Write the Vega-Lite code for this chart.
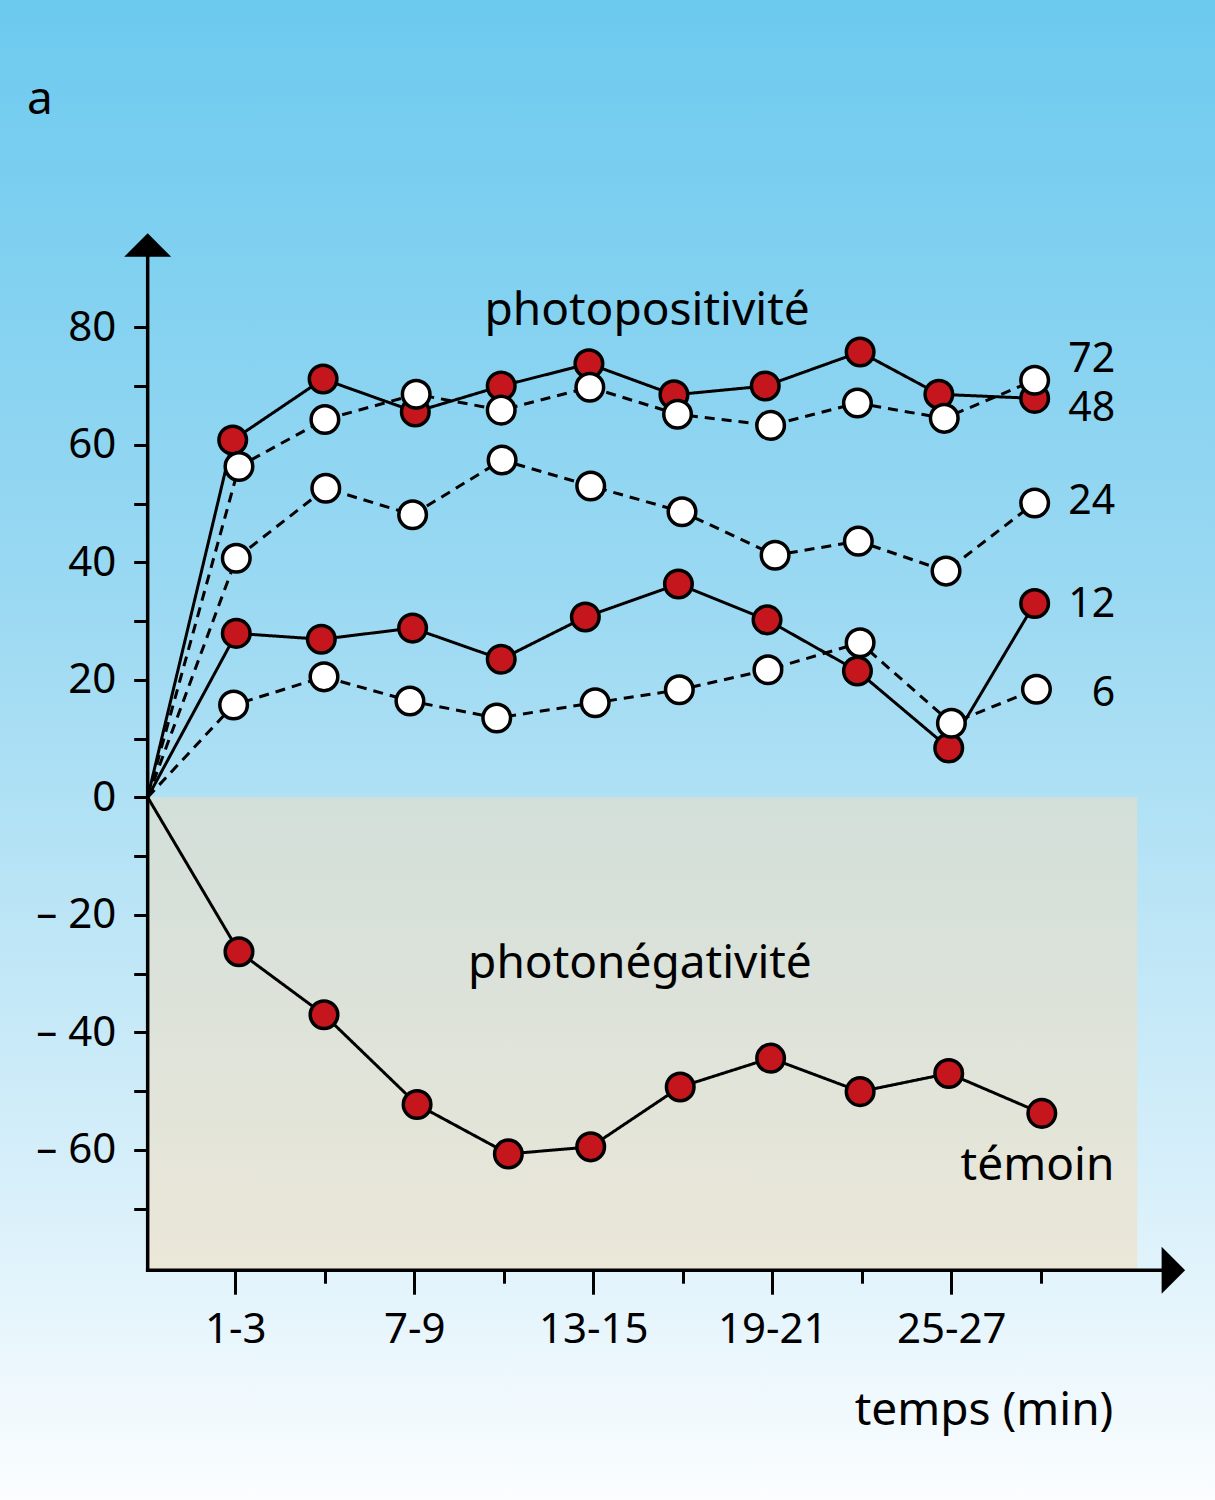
{
  "$schema": "https://vega.github.io/schema/vega-lite/v6.json",
  "width": 1215,
  "height": 1500,
  "padding": 0,
  "autosize": {"type": "none"},
  "background": "#ffffff",
  "config": {
    "font": "Noto Sans",
    "view": {
      "stroke": null,
      "fill": {
        "gradient": "linear", "x1": 0, "y1": 0, "x2": 0, "y2": 1,
        "stops": [
          {"offset": 0, "color": "#6ccaef"},
          {"offset": 0.4, "color": "#9bd9f2"},
          {"offset": 0.8, "color": "#d9f0fa"},
          {"offset": 1, "color": "#fbfdff"}
        ]
      }
    }
  },
  "datasets": {
    "series": [
      {"s": "72", "x": 0, "y": 0},
      {"s": "72", "x": 0.95, "y": 60.8},
      {"s": "72", "x": 1.96, "y": 71.2},
      {"s": "72", "x": 2.99, "y": 65.6},
      {"s": "72", "x": 3.95, "y": 70.0},
      {"s": "72", "x": 4.93, "y": 73.8},
      {"s": "72", "x": 5.88, "y": 68.5},
      {"s": "72", "x": 6.9, "y": 70.0},
      {"s": "72", "x": 7.96, "y": 75.8},
      {"s": "72", "x": 8.84, "y": 68.6},
      {"s": "72", "x": 9.91, "y": 67.9},
      {"s": "48", "x": 0, "y": 0},
      {"s": "48", "x": 1.02, "y": 56.3},
      {"s": "48", "x": 1.98, "y": 64.3},
      {"s": "48", "x": 3.0, "y": 68.6},
      {"s": "48", "x": 3.95, "y": 65.9},
      {"s": "48", "x": 4.94, "y": 69.8},
      {"s": "48", "x": 5.92, "y": 65.2},
      {"s": "48", "x": 6.96, "y": 63.3},
      {"s": "48", "x": 7.93, "y": 67.1},
      {"s": "48", "x": 8.9, "y": 64.5},
      {"s": "48", "x": 9.91, "y": 71.0},
      {"s": "24", "x": 0, "y": 0},
      {"s": "24", "x": 0.99, "y": 40.7},
      {"s": "24", "x": 1.99, "y": 52.6},
      {"s": "24", "x": 2.96, "y": 48.1},
      {"s": "24", "x": 3.96, "y": 57.4},
      {"s": "24", "x": 4.95, "y": 53.0},
      {"s": "24", "x": 5.97, "y": 48.6},
      {"s": "24", "x": 7.01, "y": 41.2},
      {"s": "24", "x": 7.94, "y": 43.6},
      {"s": "24", "x": 8.92, "y": 38.5},
      {"s": "24", "x": 9.91, "y": 50.1},
      {"s": "12", "x": 0, "y": 0},
      {"s": "12", "x": 0.99, "y": 27.9},
      {"s": "12", "x": 1.94, "y": 26.9},
      {"s": "12", "x": 2.96, "y": 28.8},
      {"s": "12", "x": 3.95, "y": 23.5},
      {"s": "12", "x": 4.89, "y": 30.7},
      {"s": "12", "x": 5.93, "y": 36.3},
      {"s": "12", "x": 6.92, "y": 30.2},
      {"s": "12", "x": 7.93, "y": 21.5},
      {"s": "12", "x": 8.95, "y": 8.4},
      {"s": "12", "x": 9.91, "y": 33.0},
      {"s": "6", "x": 0, "y": 0},
      {"s": "6", "x": 0.96, "y": 15.7},
      {"s": "6", "x": 1.97, "y": 20.5},
      {"s": "6", "x": 2.93, "y": 16.4},
      {"s": "6", "x": 3.9, "y": 13.5},
      {"s": "6", "x": 5.0, "y": 16.1},
      {"s": "6", "x": 5.94, "y": 18.3},
      {"s": "6", "x": 6.93, "y": 21.7},
      {"s": "6", "x": 7.96, "y": 26.3},
      {"s": "6", "x": 8.98, "y": 12.6},
      {"s": "6", "x": 9.93, "y": 18.4},
      {"s": "témoin", "x": 0, "y": 0},
      {"s": "témoin", "x": 1.02, "y": -26.3},
      {"s": "témoin", "x": 1.97, "y": -37.0},
      {"s": "témoin", "x": 3.01, "y": -52.3},
      {"s": "témoin", "x": 4.03, "y": -60.7},
      {"s": "témoin", "x": 4.95, "y": -59.5},
      {"s": "témoin", "x": 5.95, "y": -49.3},
      {"s": "témoin", "x": 6.96, "y": -44.4},
      {"s": "témoin", "x": 7.96, "y": -50.1},
      {"s": "témoin", "x": 8.95, "y": -47.0},
      {"s": "témoin", "x": 9.99, "y": -53.8}
    ],
    "region": [{"x": 0, "x2": 11.057, "y": 0, "y2": -80.5}],
    "axisLines": [
      {"x": 0, "x2": 0, "y": -80.5, "y2": 92.0},
      {"x": 0, "x2": 11.37, "y": -80.5, "y2": -80.5}
    ],
    "arrowUp": [{"x": 0, "y": 94.0}],
    "arrowRight": [{"x": 11.46, "y": -80.5}],
    "numLabels": [
      {"t": "72", "x": 10.81, "y": 72.4},
      {"t": "48", "x": 10.81, "y": 64.0},
      {"t": "24", "x": 10.81, "y": 48.2},
      {"t": "12", "x": 10.81, "y": 30.7},
      {"t": "6", "x": 10.81, "y": 15.5}
    ],
    "rightWords": [
      {"t": "témoin", "x": 10.8, "y": -65.1},
      {"t": "temps (min)", "x": 10.79, "y": -106.8}
    ],
    "centerWords": [
      {"t": "photopositivité", "x": 5.58, "y": 80.4},
      {"t": "photonégativité", "x": 5.5, "y": -30.8}
    ],
    "panel": [{"t": "a", "x": -1.349, "y": 116.3}]
  },
  "encoding": {
    "x": {
      "field": "x", "type": "quantitative",
      "scale": {"domain": [-1.65, 11.925], "nice": false, "zero": false},
      "axis": {
        "orient": "bottom", "offset": -229.8, "translate": -1.5,
        "values": [1, 2, 3, 4, 5, 6, 7, 8, 9, 10],
        "domain": false, "grid": false, "title": null,
        "tickColor": "#000000", "tickWidth": 3,
        "tickSize": {"condition": {"test": "datum.value % 2 == 1", "value": 26}, "value": 15},
        "labelExpr": "datum.value % 2 == 1 ? (3*datum.value-2) + '-' + (3*datum.value) : ''",
        "labelFont": "Noto Sans", "labelFontSize": 42, "labelColor": "#000000",
        "labelPadding": 15, "labelOverlap": false, "labelFlush": false, "labelBound": false
      }
    },
    "y": {
      "field": "y", "type": "quantitative",
      "scale": {"domain": [-119.61, 135.71], "nice": false, "zero": false},
      "axis": {
        "orient": "left", "offset": -147.7,
        "values": [-70, -60, -50, -40, -30, -20, -10, 0, 10, 20, 30, 40, 50, 60, 70, 80],
        "domain": false, "grid": false, "title": null,
        "tickColor": "#000000", "tickWidth": 3, "tickSize": 14,
        "labelExpr": "datum.value % 20 != 0 ? '' : (datum.value < 0 ? '– ' + (-datum.value) : '' + datum.value)",
        "labelFont": "Noto Sans", "labelFontSize": 42, "labelColor": "#000000",
        "labelPadding": 18, "labelOverlap": false, "labelFlush": false, "labelBound": false
      }
    }
  },
  "layer": [
    {
      "data": {"name": "region"},
      "mark": {
        "type": "rect",
        "fill": {
          "gradient": "linear", "x1": 0, "y1": 0, "x2": 0, "y2": 1,
          "stops": [
            {"offset": 0, "color": "#d2dfd9"},
            {"offset": 1, "color": "#ebe7d9"}
          ]
        }
      },
      "encoding": {"x2": {"field": "x2"}, "y2": {"field": "y2"}}
    },
    {
      "data": {"name": "axisLines"},
      "mark": {"type": "rule", "color": "#000000", "strokeWidth": 3.5, "strokeCap": "square"},
      "encoding": {"x2": {"field": "x2"}, "y2": {"field": "y2"}}
    },
    {
      "data": {"name": "arrowUp"},
      "mark": {"type": "point", "shape": "M-1,0.5L1,0.5L0,-0.5Z", "size": 2209, "filled": true, "color": "#000000", "opacity": 1}
    },
    {
      "data": {"name": "arrowRight"},
      "mark": {"type": "point", "shape": "M-0.5,-1L0.5,0L-0.5,1Z", "size": 2209, "filled": true, "color": "#000000", "opacity": 1}
    },
    {
      "data": {"name": "series"},
      "mark": {"type": "line", "color": "#000000", "strokeWidth": 3},
      "encoding": {
        "strokeDash": {
          "field": "s", "type": "nominal",
          "scale": {"domain": ["72", "48", "24", "12", "6", "témoin"], "range": [[1, 0], [10, 7], [10, 7], [1, 0], [10, 7], [1, 0]]},
          "legend": null
        }
      }
    },
    {
      "data": {"name": "series"},
      "transform": [{"filter": "datum.x > 0"}],
      "mark": {"type": "point", "shape": "circle", "filled": true, "size": 760, "stroke": "#000000", "strokeWidth": 3.5, "opacity": 1},
      "encoding": {
        "fill": {
          "field": "s", "type": "nominal",
          "scale": {"domain": ["72", "48", "24", "12", "6", "témoin"], "range": ["#c5151d", "#ffffff", "#ffffff", "#c5151d", "#ffffff", "#c5151d"]},
          "legend": null
        }
      }
    },
    {
      "data": {"name": "numLabels"},
      "mark": {"type": "text", "align": "right", "baseline": "alphabetic", "font": "Noto Sans", "fontSize": 41, "color": "#000000"},
      "encoding": {"text": {"field": "t"}}
    },
    {
      "data": {"name": "rightWords"},
      "mark": {"type": "text", "align": "right", "baseline": "alphabetic", "font": "Noto Sans", "fontSize": 46, "color": "#000000"},
      "encoding": {"text": {"field": "t"}}
    },
    {
      "data": {"name": "centerWords"},
      "mark": {"type": "text", "align": "center", "baseline": "alphabetic", "font": "Noto Sans", "fontSize": 46, "color": "#000000"},
      "encoding": {"text": {"field": "t"}}
    },
    {
      "data": {"name": "panel"},
      "mark": {"type": "text", "align": "left", "baseline": "alphabetic", "font": "Noto Sans", "fontSize": 46, "color": "#000000"},
      "encoding": {"text": {"field": "t"}}
    }
  ]
}
